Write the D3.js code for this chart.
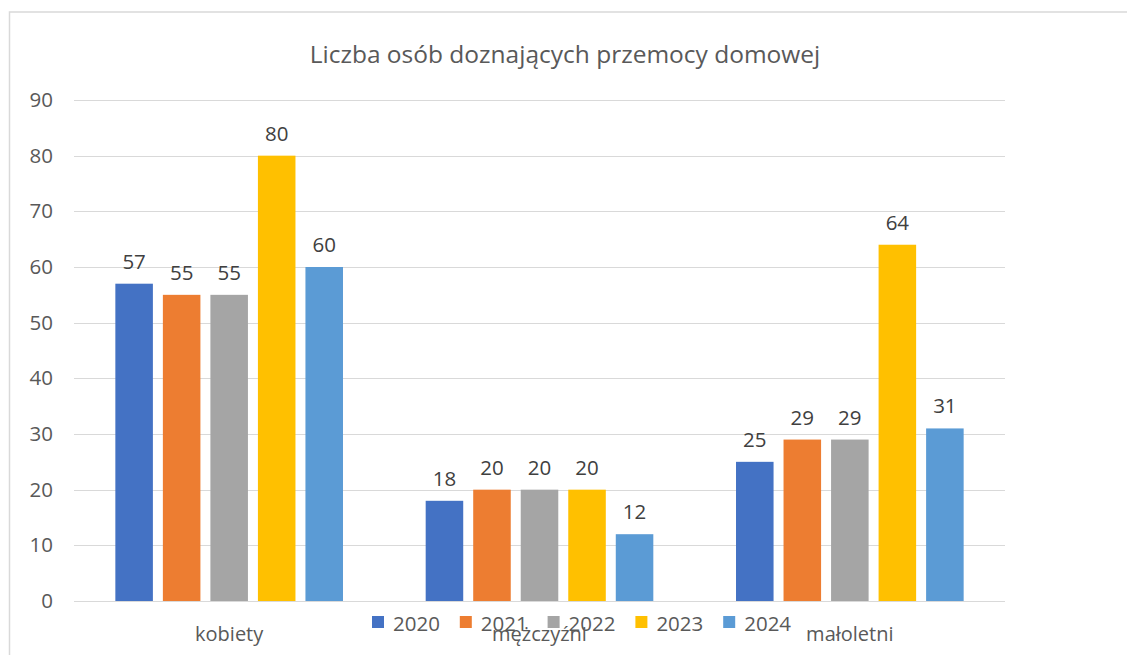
<!DOCTYPE html>
<html><head><meta charset="utf-8">
<script src="https://cdn.jsdelivr.net/npm/d3@7"></script>
<style>body{margin:0;background:#fff}svg{display:block}text{font-family:"Open Sans",sans-serif}</style>
</head><body><svg id="c" width="1127" height="655"></svg>
<script>
const categories = ["kobiety", "mężczyźni", "małoletni"];
const years = ["2020", "2021", "2022", "2023", "2024"];
const colors = ["#4472C4", "#ED7D31", "#A5A5A5", "#FFC000", "#5B9BD5"];
const values2020 = [57, 18, 25];
const values2021 = [55, 20, 29];
const values2022 = [55, 20, 29];
const values2023 = [80, 20, 64];
const values2024 = [60, 12, 31];
const yTicks = [0, 10, 20, 30, 40, 50, 60, 70, 80, 90];
const title = "Liczba osób doznających przemocy domowej";

const series = [values2020, values2021, values2022, values2023, values2024];
const svg = d3.select("#c");

// chart frame
svg.append("path").attr("d", "M9.5,655V12H1127").attr("fill", "none").attr("stroke", "#D9D9D9").attr("stroke-width", 1.5);

const x0 = d3.scaleBand().domain(categories).range([74, 1005]);
const x1 = d3.scaleBand().domain(years).range([0, x0.bandwidth()]).paddingInner(0.21).paddingOuter(0.87);
const y = d3.scaleLinear().domain([0, 90]).range([601, 100]);

// gridlines
svg.append("g").selectAll("line").data(yTicks).join("line")
  .attr("x1", 74).attr("x2", 1005)
  .attr("y1", d => Math.round(y(d)) + 0.5).attr("y2", d => Math.round(y(d)) + 0.5)
  .attr("stroke", "#D9D9D9").attr("stroke-width", 1.2);

// y axis labels
const yAxis = d3.axisLeft(y).tickValues(yTicks).tickSize(0).tickPadding(0);
const ga = svg.append("g").attr("transform", "translate(53,0)").call(yAxis);
ga.select(".domain").remove();
ga.selectAll("text").attr("font-family", '"Open Sans",sans-serif').attr("font-size", 20.5).attr("fill", "#595959");

// bars
const flat = [];
categories.forEach((c, ci) => years.forEach((yr, si) => flat.push({c, yr, si, v: series[si][ci]})));
svg.append("g").selectAll("rect").data(flat).join("rect")
  .attr("x", d => x0(d.c) + x1(d.yr))
  .attr("width", x1.bandwidth())
  .attr("y", d => y(d.v))
  .attr("height", d => y(0) - y(d.v))
  .attr("fill", d => colors[d.si]);

// data labels
svg.append("g").selectAll("text").data(flat).join("text")
  .attr("x", d => x0(d.c) + x1(d.yr) + x1.bandwidth() / 2)
  .attr("y", d => y(d.v) - 15)
  .attr("text-anchor", "middle")
  .attr("font-size", 20.5).attr("fill", "#404040")
  .text(d => d.v);

// x axis line
svg.append("line").attr("x1", 74).attr("x2", 1005).attr("y1", 601.5).attr("y2", 601.5).attr("stroke", "#D9D9D9").attr("stroke-width", 1.2);

// category labels
svg.append("g").selectAll("text").data(categories).join("text")
  .attr("x", d => x0(d) + x0.bandwidth() / 2)
  .attr("y", 641)
  .attr("text-anchor", "middle")
  .attr("font-size", 20).attr("fill", "#595959")
  .text(d => d);

// title
svg.append("text").attr("x", 565).attr("y", 63).attr("text-anchor", "middle")
  .attr("font-size", 24.5).attr("fill", "#595959").text(title);

// legend
const lg = svg.append("g").selectAll("g").data(years).join("g")
  .attr("transform", (d, i) => `translate(${372 + i * 87.8},616)`);
lg.append("rect").attr("width", 12).attr("height", 12).attr("fill", (d, i) => colors[i]);
lg.append("text").attr("x", 21).attr("y", 15).attr("font-size", 20.5).attr("fill", "#595959").text(d => d);
</script></body></html>
